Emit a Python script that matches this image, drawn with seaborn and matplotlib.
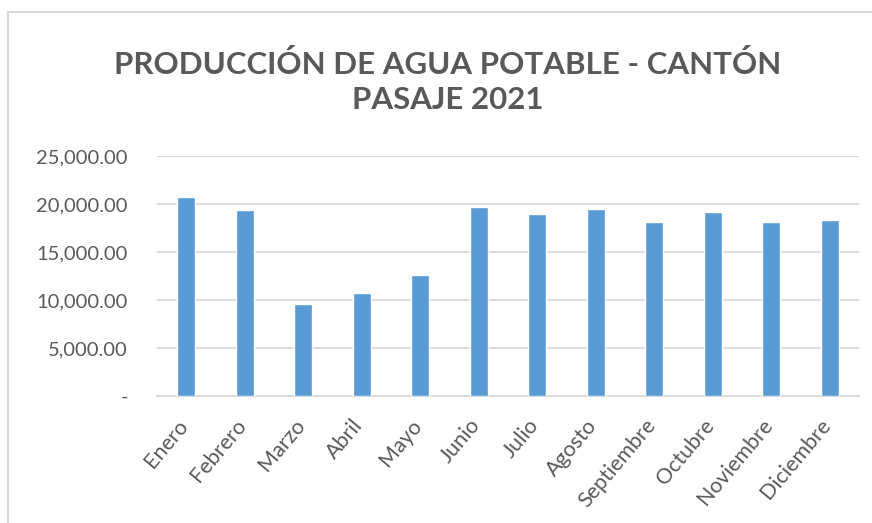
import matplotlib
matplotlib.use("Agg")
import matplotlib.pyplot as plt
import matplotlib.transforms as mtransforms
import seaborn as sns
import pandas as pd
from matplotlib.ticker import FuncFormatter
from matplotlib.patches import Rectangle

# Datos
meses = ["Enero", "Febrero", "Marzo", "Abril", "Mayo", "Junio", "Julio",
         "Agosto", "Septiembre", "Octubre", "Noviembre", "Diciembre"]
produccion = [20700, 19420, 9560, 10680, 12560, 19670, 18970,
              19530, 18100, 19180, 18130, 18310]
titulo = "PRODUCCIÓN DE AGUA POTABLE - CANTÓN\nPASAJE 2021"

df = pd.DataFrame({"Mes": meses, "Produccion": produccion})

sns.set_theme(style="white")
plt.rcParams["font.family"] = ["Lato", "DejaVu Sans"]

gris = "#595959"
fig = plt.figure(figsize=(8.72, 5.23), dpi=100)
ax = fig.add_axes([157 / 872, 1 - 396 / 523, 702 / 872, 240 / 523])

sns.barplot(data=df, x="Mes", y="Produccion", color="#5B9BD5", width=0.31,
            saturation=1, ax=ax, zorder=3)

ax.set_ylim(0, 25000)
ax.set_yticks([0, 5000, 10000, 15000, 20000, 25000])
ax.yaxis.set_major_formatter(FuncFormatter(lambda v, p: "-" if v == 0 else f"{v:,.2f}"))
ax.grid(axis="y", color="#D9D9D9", linewidth=1.3, zorder=0)
ax.set_axisbelow(True)
for s in ["top", "right", "left"]:
    ax.spines[s].set_visible(False)
ax.spines["bottom"].set_color("#D9D9D9")
ax.spines["bottom"].set_linewidth(1.3)
ax.tick_params(axis="both", length=0, colors=gris, labelsize=14.5)
ax.tick_params(axis="y", pad=21)
ax.tick_params(axis="x", pad=14, labelsize=15.5)
ax.set_xlabel("")
ax.set_ylabel("")

# etiquetas del eje x giradas, desplazadas un poco a la izquierda
desplaza = mtransforms.ScaledTranslation(-10 / 100, 0, fig.dpi_scale_trans)
for lbl in ax.get_xticklabels():
    lbl.set_rotation(50)
    lbl.set_ha("right")
    lbl.set_rotation_mode("anchor")
    lbl.set_transform(lbl.get_transform() + desplaza)

fig.text(0.513, 1 - 82 / 523, titulo, ha="center", va="center", fontsize=22.5,
         fontweight="bold", color=gris, linespacing=1.27)

# marco del gráfico
fig.patches.append(Rectangle((8 / 872, -0.01), 1.0, 1 - 12 / 523 + 0.01,
                             transform=fig.transFigure, fill=False,
                             edgecolor="#D9D9D9", linewidth=1.5))

fig.savefig("out.png", dpi=100)
